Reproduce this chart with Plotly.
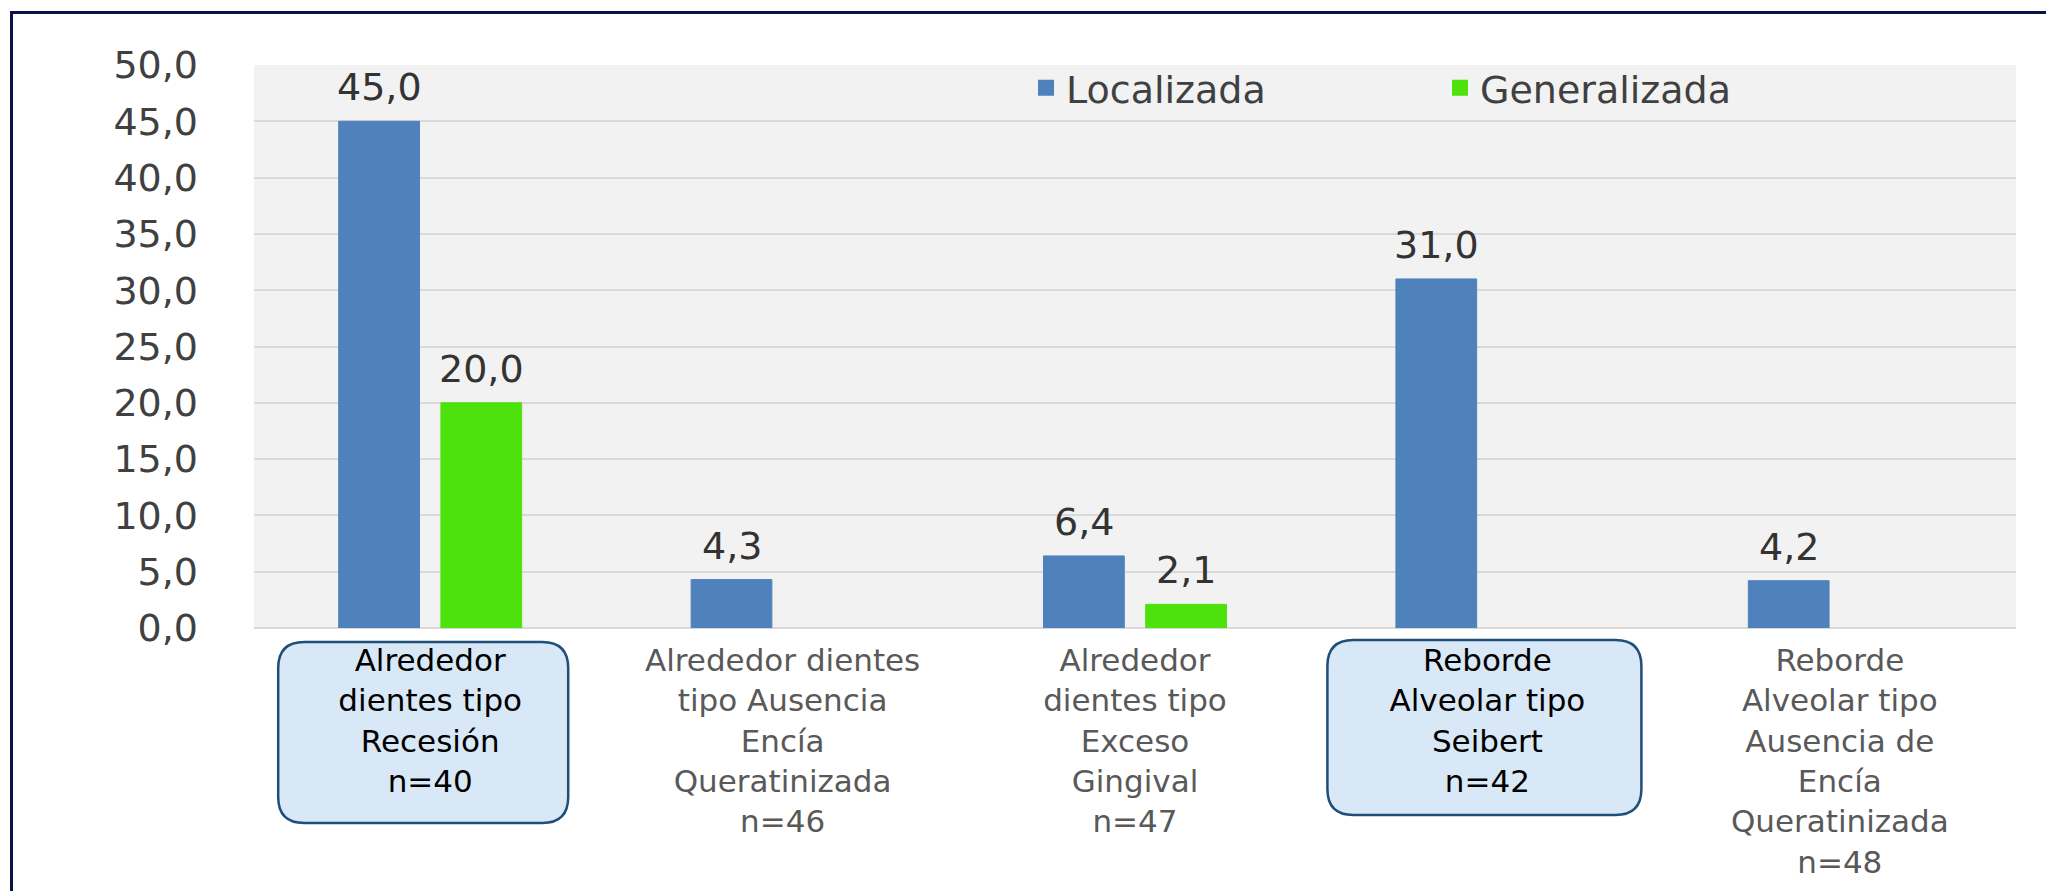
import plotly.graph_objects as go

categories = ["Recesion", "AusenciaDientes", "Exceso", "Seibert", "AusenciaReborde"]
tick_labels = [
    "Alrededor<br>dientes tipo<br>Recesión<br>n=40",
    "Alrededor dientes<br>tipo Ausencia<br>Encía<br>Queratinizada<br>n=46",
    "Alrededor<br>dientes tipo<br>Exceso<br>Gingival<br>n=47",
    "Reborde<br>Alveolar tipo<br>Seibert<br>n=42",
    "Reborde<br>Alveolar tipo<br>Ausencia de<br>Encía<br>Queratinizada<br>n=48",
]
highlighted = [True, False, False, True, False]
series_names = ["Localizada", "Generalizada"]
localizada = [45.0, 4.3, 6.4, 31.0, 4.2]
generalizada = [20.0, None, 2.1, None, None]
y_ticks = [0, 5, 10, 15, 20, 25, 30, 35, 40, 45, 50]

BLUE = "#4F81BD"
GREEN = "#4DE20C"
FONT = "DejaVu Sans"

# page body has an 8px margin, so the figure is 8px smaller than the window
W, H = 2046, 883
ML, MT = 246, 57
plot_w, plot_h = 1762, 563
MR = W - ML - plot_w
MB = H - MT - plot_h
BARGAP = 0.42
cat_w = plot_w / len(categories)
slot = (1 - BARGAP) * cat_w / 2


def fmt(v):
    return f"{v:.1f}".replace(".", ",")


def styled(lbl, hl):
    col = "#000000" if hl else "#595959"
    return "<br>".join(f"<span style='color:{col}'>{p}</span>" for p in lbl.split("<br>"))


fig = go.Figure()
for name, vals, col in [(series_names[0], localizada, BLUE), (series_names[1], generalizada, GREEN)]:
    fig.add_trace(go.Bar(
        x=categories, y=vals, name=name, showlegend=False,
        marker=dict(color=col, line=dict(color=col, width=1)),
    ))
for name, col in [(series_names[0], BLUE), (series_names[1], GREEN)]:
    fig.add_trace(go.Scatter(
        x=[None], y=[None], mode="markers", name=name,
        marker=dict(symbol="square", size=18, color=col),
    ))

annotations = []
for vals, sign in [(localizada, -1), (generalizada, 1)]:
    for c, v in zip(categories, vals):
        if v is None:
            continue
        annotations.append(dict(
            x=c, y=v, xref="x", yref="y", text=fmt(v), showarrow=False,
            yanchor="bottom", xanchor="center", xshift=sign * slot / 2, yshift=10,
            font=dict(family=FONT, size=38, color="#333333"),
        ))

shapes = []
# rounded boxes behind highlighted category labels
box_dims = {0: (-152, 138, -14, -195), 3: (-160, 154, -12, -187)}
for i, hl in enumerate(highlighted):
    if not hl:
        continue
    x0, x1, top, bot = box_dims[i]
    r = 26
    path = (f"M{x0 + r},{top} L{x1 - r},{top} Q{x1},{top} {x1},{top - r} "
            f"L{x1},{bot + r} Q{x1},{bot} {x1 - r},{bot} L{x0 + r},{bot} "
            f"Q{x0},{bot} {x0},{bot + r} L{x0},{top - r} Q{x0},{top} {x0 + r},{top} Z")
    shapes.append(dict(
        type="path", xref="x", xsizemode="pixel", xanchor=i,
        yref="paper", ysizemode="pixel", yanchor=0, path=path,
        fillcolor="#D9E8F6", line=dict(color="#1F4E79", width=2.5), layer="below",
    ))
# outer frame (left and top edges visible)
shapes.append(dict(
    type="rect", xref="paper", yref="paper",
    x0=(3.5 - ML) / plot_w, x1=1.5, y0=-2, y1=(MT + plot_h - 4.5) / plot_h,
    line=dict(color="#0B1245", width=3), fillcolor="rgba(0,0,0,0)", layer="above",
))

fig.update_layout(
    width=W, height=H,
    margin=dict(l=ML, r=MR, t=MT, b=MB, autoexpand=False),
    paper_bgcolor="white", plot_bgcolor="#F2F2F2",
    barmode="group", bargap=BARGAP, bargroupgap=0.21,
    separators=",.",
    font=dict(family=FONT, color="#404040"),
    legend=dict(
        orientation="h", x=(1018 - ML) / plot_w, xanchor="left",
        y=(plot_h - (80 - MT)) / plot_h, yanchor="middle",
        bgcolor="rgba(0,0,0,0)", font=dict(family=FONT, size=38, color="#404040"),
        itemsizing="trace", entrywidth=369,
    ),
    annotations=annotations,
    shapes=shapes,
    xaxis=dict(
        type="category", tickvals=categories,
        ticktext=[styled(l, h) for l, h in zip(tick_labels, highlighted)],
        showgrid=False, ticks="", showline=False, zeroline=False,
        tickfont=dict(family=FONT, size=31, color="#595959"),
        ticklabelstandoff=11, tickangle=0,
    ),
    yaxis=dict(
        range=[0, 50], tickvals=y_ticks, tickformat=".1f",
        showgrid=True, gridcolor="#D9D9D9", gridwidth=2,
        zeroline=True, zerolinecolor="#D9D9D9", zerolinewidth=2,
        showline=False, ticks="",
        tickfont=dict(family=FONT, size=38, color="#404040"),
        ticklabelstandoff=55,
    ),
)

fig.write_html("out.html")
